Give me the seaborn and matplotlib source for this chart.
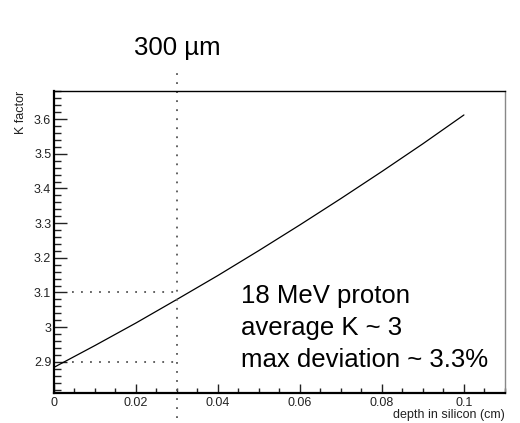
import pandas as pd
import matplotlib.pyplot as plt
import matplotlib.transforms as mtransforms
from matplotlib.ticker import MultipleLocator
import seaborn as sns

# K factor vs depth
depth_cm = [0.0, 0.01, 0.02, 0.03, 0.04, 0.05, 0.06, 0.07, 0.08, 0.09, 0.1]
k_factor = [2.884, 2.947, 3.012, 3.080, 3.149, 3.221, 3.295, 3.371, 3.449, 3.529, 3.612]

thickness_cm = 0.03
thickness_label = "300 µm"
k_marks = [3.1, 2.9]
note_lines = ["18 MeV proton", "average K ~ 3", "max deviation ~ 3.3%"]

df = pd.DataFrame({"depth": depth_cm, "K": k_factor})

sns.set_style("ticks")
plt.rcParams["font.family"] = ["Liberation Sans", "DejaVu Sans"]
plt.rcParams["text.color"] = "black"
plt.rcParams["axes.labelcolor"] = "#222222"
plt.rcParams["xtick.color"] = "#222222"
plt.rcParams["ytick.color"] = "#222222"

fig = plt.figure(figsize=(5.2, 4.23), dpi=100)
ax = fig.add_axes([0.1038, 0.0709, 0.8672, 0.7147])

sns.lineplot(data=df, x="depth", y="K", ax=ax, color="black", linewidth=0.9)

ax.set_xlim(0, 0.11)
ax.set_ylim(2.81, 3.682)

# dotted guide lines
vtrans = mtransforms.blended_transform_factory(ax.transData, ax.transAxes)
ax.plot([thickness_cm, thickness_cm], [-0.083, 1.062], transform=vtrans,
        clip_on=False, color="#555555", linestyle=(0, (1, 4)), linewidth=1.3)
for k in k_marks:
    ax.plot([0.0045, thickness_cm], [k, k], color="#555555",
            linestyle=(0, (1, 4)), linewidth=1.3)

ax.text(thickness_cm, 1.118, thickness_label, transform=vtrans,
        ha="center", va="baseline", fontsize=18.5)

for i, line in enumerate(note_lines):
    ax.text(0.0456, 3.069 - i * 0.0916, line, ha="left", va="baseline", fontsize=18.5)

# ROOT-like axes
ax.xaxis.set_minor_locator(MultipleLocator(0.005))
ax.yaxis.set_minor_locator(MultipleLocator(0.02))
ax.set_xticks([0, 0.02, 0.04, 0.06, 0.08, 0.1])
ax.set_xticklabels(["0", "0.02", "0.04", "0.06", "0.08", "0.1"])
ax.set_yticks([2.9, 3.0, 3.1, 3.2, 3.3, 3.4, 3.5, 3.6])
ax.set_yticklabels(["2.9", "3", "3.1", "3.2", "3.3", "3.4", "3.5", "3.6"])
ax.tick_params(axis="x", which="major", direction="in", length=6.5, width=1, labelsize=9, pad=3)
ax.tick_params(axis="x", which="minor", direction="in", length=3.5, width=1)
ax.tick_params(axis="y", which="major", direction="in", length=9.5, width=1, labelsize=9, pad=2)
ax.tick_params(axis="y", which="minor", direction="in", length=5, width=1)

for side in ["left", "bottom"]:
    ax.spines[side].set_linewidth(1.6)
    ax.spines[side].set_color("black")
ax.spines["top"].set_linewidth(1.0)
ax.spines["top"].set_color("black")
ax.spines["right"].set_linewidth(1.0)
ax.spines["right"].set_color("#888888")
for side in ["top", "right"]:
    ax.spines[side].set_visible(True)

ax.set_xlabel("depth in silicon (cm)", fontsize=9, loc="right", labelpad=0)
ax.set_ylabel("K factor", fontsize=9, loc="top", labelpad=5)

fig.savefig("out.png", dpi=100)
